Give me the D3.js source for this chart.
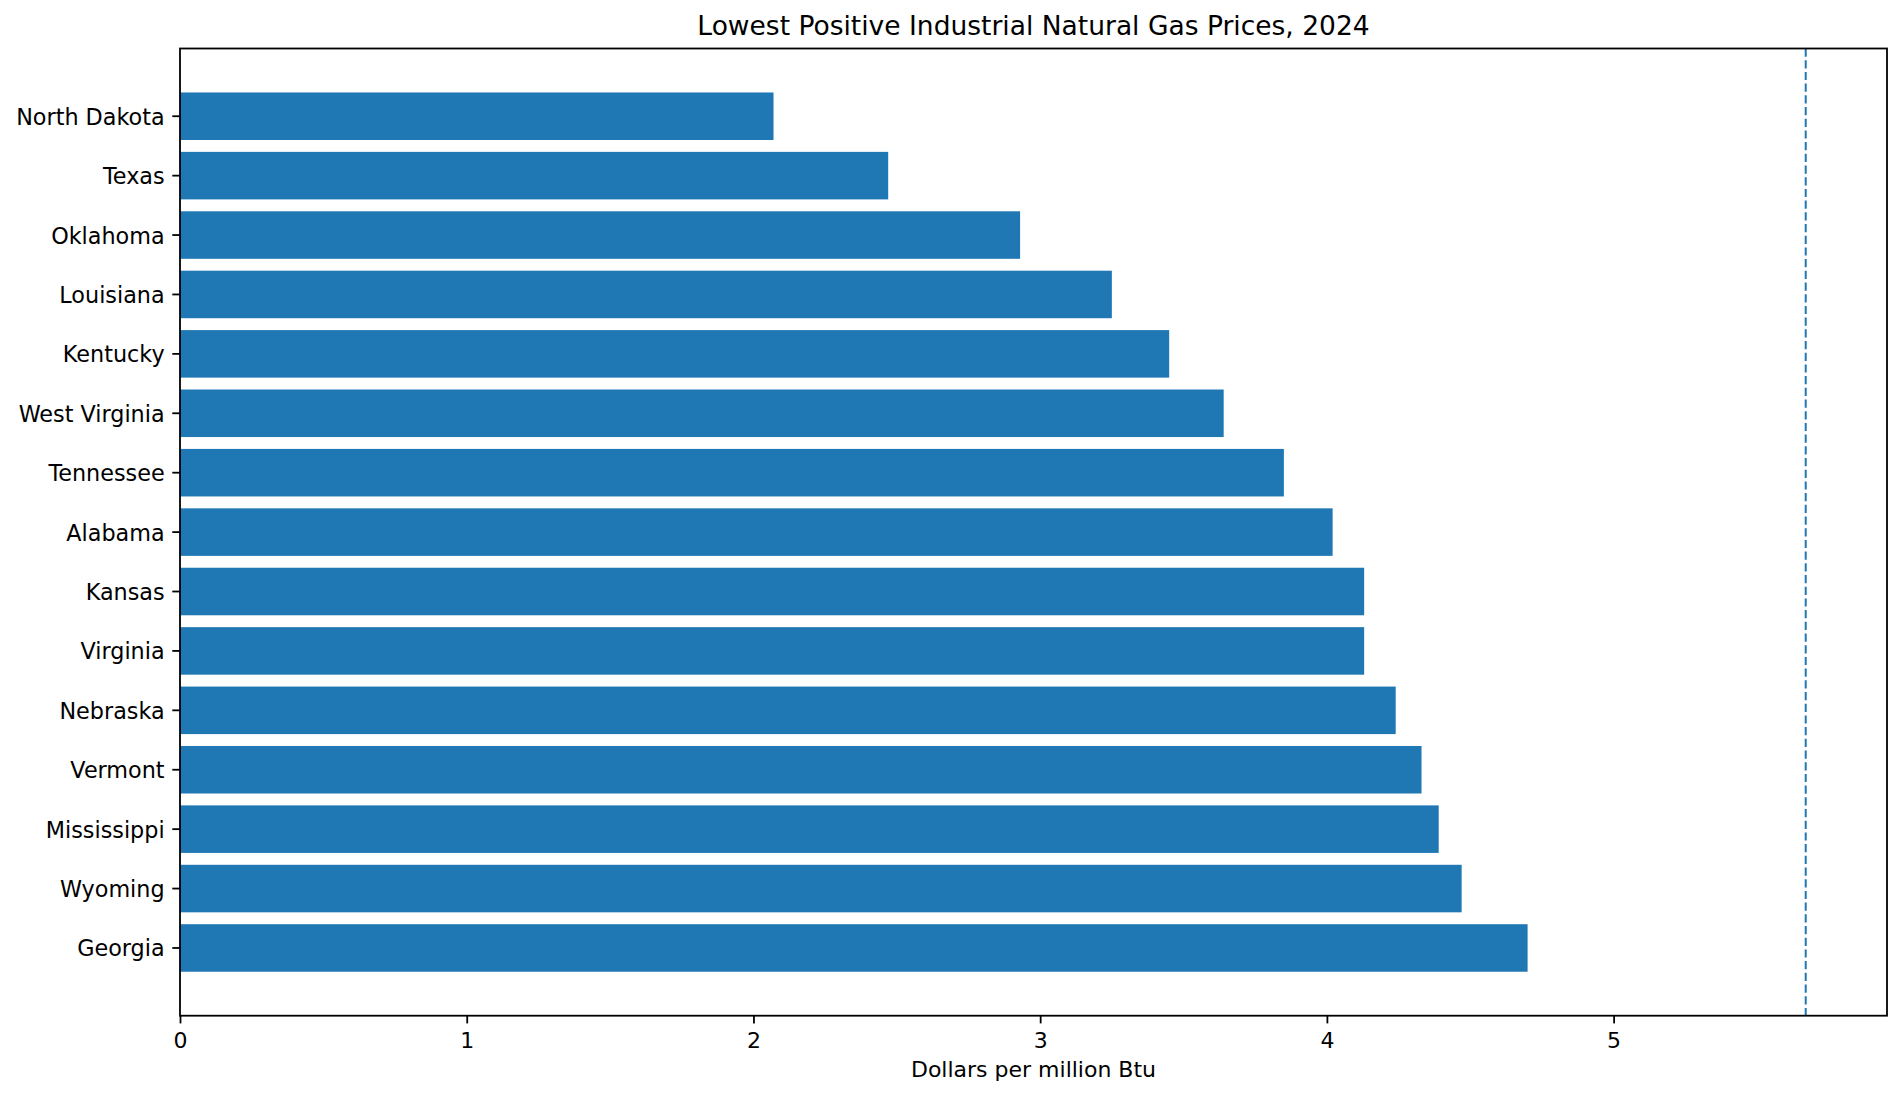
<!DOCTYPE html>
<html>
<head>
<meta charset="utf-8">
<script src="https://cdn.jsdelivr.net/npm/d3@7"></script>
<style>
  body { margin: 0; background: #fff; }
  text { font-family: "DejaVu Sans", sans-serif; fill: #000; }
</style>
</head>
<body>
<script>
// states, lowest price first
var states = ["North Dakota","Texas","Oklahoma","Louisiana","Kentucky","West Virginia","Tennessee",
  "Alabama","Kansas","Virginia","Nebraska","Vermont","Mississippi","Wyoming","Georgia"];
// dollars per million Btu
var prices = [2.07,2.47,2.93,3.25,3.45,3.64,3.85,4.02,4.13,4.13,4.24,4.33,4.39,4.47,4.70];
var refLine = [5.67]; // dashed reference line
var xTicks = [0,1,2,3,4,5];

var Width = 1903, Height = 1096;
// plot area (note: "top" is taken by window.top)
var pLeft = 180, pRight = 1887, pTop = 48.5, pBottom = 1015.7;

var svg = d3.select("body").append("svg")
  .attr("width", Width)
  .attr("height", Height);

var x = d3.scaleLinear()
  .domain([0, d3.max(prices.concat(refLine)) * 1.05])
  .range([pLeft, pRight]);

var y = d3.scaleBand()
  .domain(states)
  .range([pTop, pBottom])
  .paddingInner(0.2)
  .paddingOuter(0.74);

// bars
svg.append("g").selectAll("rect")
  .data(states)
  .enter().append("rect")
    .attr("x", x(0))
    .attr("y", function(d) { return y(d); })
    .attr("width", function(d, i) { return x(prices[i]) - x(0); })
    .attr("height", y.bandwidth())
    .attr("fill", "#1f77b4");

// dashed line
svg.append("g").selectAll("line")
  .data(refLine)
  .enter().append("line")
    .attr("x1", function(d) { return x(d); })
    .attr("x2", function(d) { return x(d); })
    .attr("y1", pTop)
    .attr("y2", pBottom)
    .attr("stroke", "#1f77b4")
    .attr("stroke-width", 2)
    .attr("stroke-dasharray", "8.2,3.5");

// x axis
var xAxis = svg.append("g")
  .attr("transform", "translate(0," + pBottom + ")")
  .call(d3.axisBottom(x).tickValues(xTicks).tickFormat(d3.format("d")).tickSize(7.7).tickPadding(9));
xAxis.select(".domain").remove();
xAxis.selectAll("line").attr("stroke", "#000").attr("stroke-width", 1.8);
xAxis.selectAll("text").attr("font-size", 22).attr("font-family", "DejaVu Sans").attr("fill", "#000");

// y axis
var yAxis = svg.append("g")
  .attr("transform", "translate(" + pLeft + ",0)")
  .call(d3.axisLeft(y).tickSize(7.7).tickPadding(7.7));
yAxis.select(".domain").remove();
yAxis.selectAll("line").attr("stroke", "#000").attr("stroke-width", 1.8);
yAxis.selectAll("text").attr("font-size", 22.3).attr("dy", "0.38em")
  .attr("font-family", "DejaVu Sans").attr("fill", "#000");

// frame
svg.append("rect")
  .attr("x", pLeft)
  .attr("y", pTop)
  .attr("width", pRight - pLeft)
  .attr("height", pBottom - pTop)
  .attr("fill", "none")
  .attr("stroke", "#000")
  .attr("stroke-width", 1.8);

// titles
svg.append("text")
  .attr("x", (pLeft + pRight) / 2)
  .attr("y", 35)
  .attr("text-anchor", "middle")
  .attr("font-size", 26.5)
  .text("Lowest Positive Industrial Natural Gas Prices, 2024");

svg.append("text")
  .attr("x", (pLeft + pRight) / 2)
  .attr("y", 1077)
  .attr("text-anchor", "middle")
  .attr("font-size", 22)
  .text("Dollars per million Btu");
</script>
</body>
</html>
